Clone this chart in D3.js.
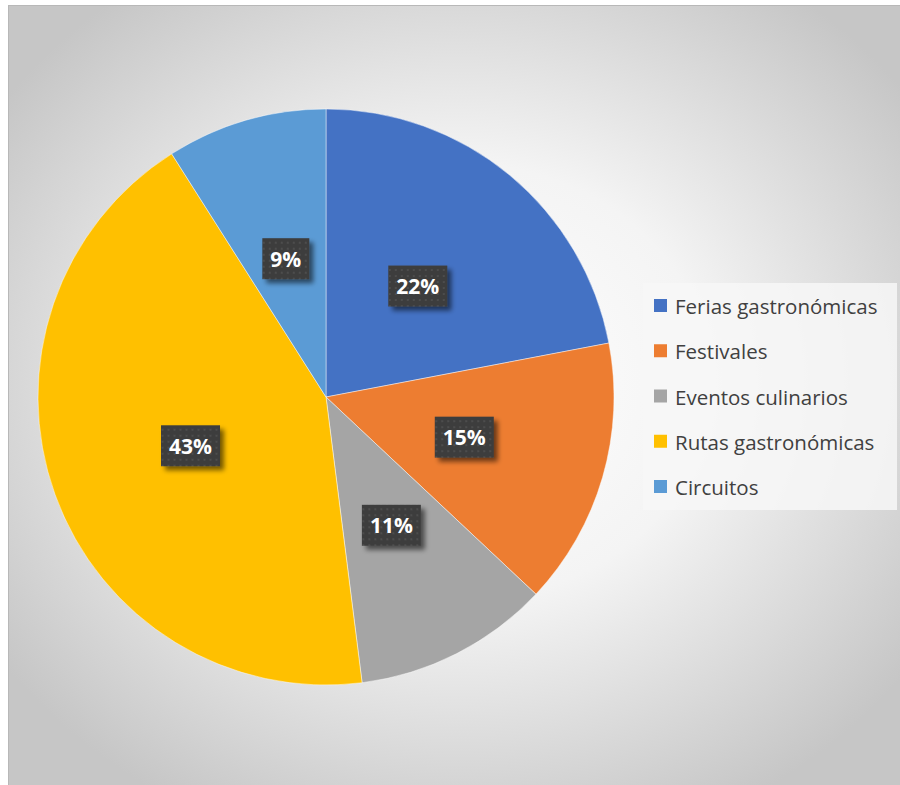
<!DOCTYPE html>
<html>
<head>
<meta charset="utf-8">
<script src="https://cdn.jsdelivr.net/npm/d3@7"></script>
<style>
  html, body { margin: 0; padding: 0; background: #ffffff; }
  svg { display: block; }
</style>
</head>
<body>
<svg id="chart" width="900" height="785"></svg>
<script>
// Share of gastronomic tourism products (percent)
const categories = ["Ferias gastronómicas", "Festivales", "Eventos culinarios", "Rutas gastronómicas", "Circuitos"];
const values = [22, 15, 11, 43, 9];
const colors = ["#4472c4", "#ed7d31", "#a5a5a5", "#ffc000", "#5b9bd5"];

const svg = d3.select("#chart");
const W = 900, H = 785;
const defs = svg.append("defs");

// Soft radial backdrop of the chart area
const bg = defs.append("radialGradient").attr("id", "bgGrad")
  .attr("cx", "50%").attr("cy", "48%").attr("r", "62%");
bg.append("stop").attr("offset", "0%").attr("stop-color", "#ffffff");
bg.append("stop").attr("offset", "45%").attr("stop-color", "#f4f4f4");
bg.append("stop").attr("offset", "100%").attr("stop-color", "#c6c6c6");

// Dotted dark fill used behind the data labels
const pat = defs.append("pattern").attr("id", "dots")
  .attr("patternUnits", "userSpaceOnUse").attr("width", 6).attr("height", 6);
pat.append("rect").attr("width", 6).attr("height", 6).attr("fill", "#3d3d3d");
pat.append("rect").attr("x", 1).attr("y", 1).attr("width", 2).attr("height", 2).attr("fill", "#4d4d4d");

const shadow = defs.append("filter").attr("id", "lblShadow")
  .attr("x", "-30%").attr("y", "-30%").attr("width", "170%").attr("height", "170%");
shadow.append("feGaussianBlur").attr("in", "SourceAlpha").attr("stdDeviation", 2.5).attr("result", "b");
shadow.append("feOffset").attr("in", "b").attr("dx", 4).attr("dy", 4).attr("result", "o");
shadow.append("feComponentTransfer").attr("in", "o").attr("result", "s")
  .append("feFuncA").attr("type", "linear").attr("slope", 0.55);
const fm = shadow.append("feMerge");
fm.append("feMergeNode").attr("in", "s");
fm.append("feMergeNode").attr("in", "SourceGraphic");

// Chart area
svg.append("rect")
  .attr("x", 8.5).attr("y", 5.5).attr("width", W).attr("height", H)
  .attr("fill", "url(#bgGrad)").attr("stroke", "#b8b8b8").attr("stroke-width", 1);

// Pie
const cx = 326, cy = 397, R = 288;
const pie = d3.pie().sort(null).value(d => d.value);
const data = pie(categories.map((c, i) => ({ name: c, value: values[i], color: colors[i] })));
const arc = d3.arc().innerRadius(0).outerRadius(R);
const labelArc = d3.arc().innerRadius(0).outerRadius(R);

const g = svg.append("g").attr("transform", `translate(${cx},${cy})`);
g.selectAll("path.slice").data(data).join("path")
  .attr("class", "slice")
  .attr("d", arc)
  .attr("fill", d => d.data.color)
  .attr("stroke", "rgba(255,255,255,0.45)")
  .attr("stroke-width", 1);

// Data labels
const lbl = g.selectAll("g.lbl").data(data).join("g")
  .attr("class", "lbl")
  .attr("transform", d => {
    const [x, y] = labelArc.centroid(d);
    return `translate(${x},${y})`;
  });

lbl.each(function(d) {
  const sel = d3.select(this);
  const t = sel.append("text")
    .attr("text-anchor", "middle")
    .attr("dominant-baseline", "central")
    .attr("font-family", "'Open Sans', 'DejaVu Sans', sans-serif")
    .attr("font-weight", 700)
    .attr("font-size", 21)
    .attr("fill", "#ffffff")
    .text(d.data.value + "%");
  const bb = t.node().getBBox();
  const padX = 8, h = 41;
  sel.insert("rect", "text")
    .attr("x", -bb.width / 2 - padX).attr("y", -h / 2)
    .attr("width", bb.width + 2 * padX).attr("height", h)
    .attr("fill", "url(#dots)")
    .attr("filter", "url(#lblShadow)");
});

// Legend
const legX = 643, legY = 283, legW = 254, legH = 227;
svg.append("rect")
  .attr("x", legX).attr("y", legY).attr("width", legW).attr("height", legH)
  .attr("fill", "#f7f7f7").attr("fill-opacity", 0.85);

const rowY = d3.scalePoint().domain(categories).range([306, 487]);
const leg = svg.append("g");
const item = leg.selectAll("g").data(categories).join("g")
  .attr("transform", d => `translate(654,${rowY(d)})`);
item.append("rect")
  .attr("x", 0).attr("y", -7).attr("width", 13).attr("height", 13)
  .attr("fill", (d, i) => colors[i]);
item.append("text")
  .attr("x", 21).attr("y", 0)
  .attr("dominant-baseline", "central")
  .attr("font-family", "'Open Sans', 'Noto Sans', sans-serif")
  .attr("font-size", 20.5)
  .attr("fill", "#404040")
  .text(d => d);
</script>
</body>
</html>
